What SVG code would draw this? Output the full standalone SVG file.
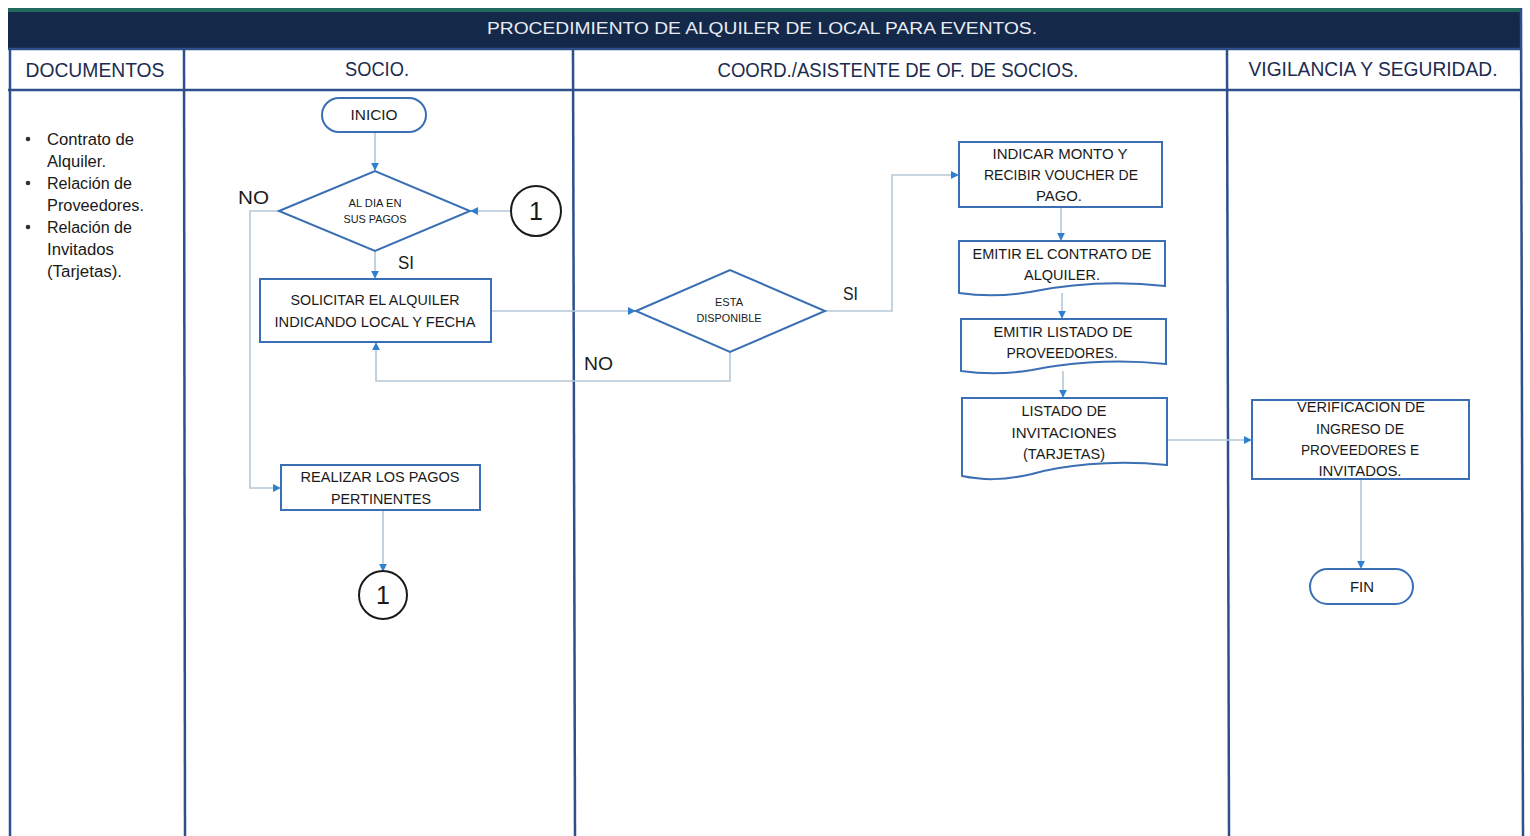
<svg xmlns="http://www.w3.org/2000/svg" width="1530" height="836" viewBox="0 0 1530 836">
<style>
  text { font-family: "Liberation Sans", Arial, sans-serif; fill: #1a1a1a; }
  .hdr { font-size: 20px; fill: #1d2b4f; text-anchor: middle; }
  .title { font-size: 17px; fill: #e8ecf2; text-anchor: middle; }
  .doc { font-size: 16px; }
  .nt { font-size: 14.5px; text-anchor: middle; }
  .sm { font-size: 11px; text-anchor: middle; }
  .lbl { font-size: 19px; }
  .lane { stroke: #2e4f8c; stroke-width: 2.5; fill: none; }
  .node { fill: #ffffff; stroke: #3a6fb5; stroke-width: 2; }
  .circ { fill: #ffffff; stroke: #1a1a1a; stroke-width: 2; }
  .conn { fill: none; stroke: #b5c7d8; stroke-width: 1.6; }
</style>
<defs>
  <marker id="arr" viewBox="0 0 10 10" refX="9" refY="5" markerWidth="5" markerHeight="5" orient="auto">
    <path d="M0,0 L10,5 L0,10 Z" fill="#2f7fd0"/>
  </marker>
</defs>
<rect x="0" y="0" width="1530" height="836" fill="#ffffff"/>

<g id="frame">
  <rect x="8" y="8" width="1513" height="41" fill="#14284a"/>
  <rect x="8" y="8" width="1513" height="4" fill="#1f6a5c"/>
  <text class="title" x="762" y="34" textLength="550" lengthAdjust="spacingAndGlyphs">PROCEDIMIENTO DE ALQUILER DE LOCAL PARA EVENTOS.</text>
  <line class="lane" x1="8" y1="49" x2="1521" y2="49"/>
  <line class="lane" x1="8" y1="90" x2="1521" y2="90"/>
  <line class="lane" x1="10" y1="49" x2="10" y2="836"/>
  <line class="lane" x1="184" y1="49" x2="185" y2="836"/>
  <line class="lane" x1="573" y1="49" x2="575" y2="836"/>
  <line class="lane" x1="1227" y1="49" x2="1229" y2="836"/>
  <line class="lane" x1="1521" y1="8" x2="1523" y2="836"/>
  <text class="hdr" x="95" y="77" textLength="139" lengthAdjust="spacingAndGlyphs">DOCUMENTOS</text>
  <text class="hdr" x="377" y="76" textLength="64" lengthAdjust="spacingAndGlyphs">SOCIO.</text>
  <text class="hdr" x="898" y="77" textLength="361" lengthAdjust="spacingAndGlyphs">COORD./ASISTENTE  DE OF. DE SOCIOS.</text>
  <text class="hdr" x="1373" y="76" textLength="249" lengthAdjust="spacingAndGlyphs">VIGILANCIA Y SEGURIDAD.</text>
</g>

<g id="documentos">
  <circle cx="28" cy="139" r="2.3" fill="#333"/>
  <circle cx="28" cy="183" r="2.3" fill="#333"/>
  <circle cx="28" cy="227" r="2.3" fill="#333"/>
  <text class="doc" x="47" y="145" textLength="87" lengthAdjust="spacingAndGlyphs">Contrato de</text>
  <text class="doc" x="47" y="167" textLength="59" lengthAdjust="spacingAndGlyphs">Alquiler.</text>
  <text class="doc" x="47" y="189" textLength="85" lengthAdjust="spacingAndGlyphs">Relación de</text>
  <text class="doc" x="47" y="211" textLength="97" lengthAdjust="spacingAndGlyphs">Proveedores.</text>
  <text class="doc" x="47" y="233" textLength="85" lengthAdjust="spacingAndGlyphs">Relación de</text>
  <text class="doc" x="47" y="255" textLength="67" lengthAdjust="spacingAndGlyphs">Invitados</text>
  <text class="doc" x="47" y="277" textLength="75" lengthAdjust="spacingAndGlyphs">(Tarjetas).</text>
</g>

<g id="connectors">
  <path class="conn" d="M375,132 V170" marker-end="url(#arr)"/>
  <path class="conn" d="M511,211 H471" marker-end="url(#arr)"/>
  <path class="conn" d="M375,251 V278" marker-end="url(#arr)"/>
  <path class="conn" d="M279,211 H250 V488 H280" marker-end="url(#arr)"/>
  <path class="conn" d="M383,510 V571" marker-end="url(#arr)"/>
  <path class="conn" d="M491,311 H635" marker-end="url(#arr)"/>
  <path class="conn" d="M730,352 V381 H376 V343" marker-end="url(#arr)"/>
  <path class="conn" d="M825,311 H892 V175 H958" marker-end="url(#arr)"/>
  <path class="conn" d="M1061,207 V240" marker-end="url(#arr)"/>
  <path class="conn" d="M1062,293 V318" marker-end="url(#arr)"/>
  <path class="conn" d="M1063,371 V397" marker-end="url(#arr)"/>
  <path class="conn" d="M1167,440 H1251" marker-end="url(#arr)"/>
  <path class="conn" d="M1361,479 V568" marker-end="url(#arr)"/>
  <text class="lbl" x="238" y="204" textLength="31" lengthAdjust="spacingAndGlyphs">NO</text>
  <text class="lbl" x="398" y="269" textLength="16" lengthAdjust="spacingAndGlyphs">SI</text>
  <text class="lbl" x="584" y="370" textLength="29" lengthAdjust="spacingAndGlyphs">NO</text>
  <text class="lbl" x="843" y="300" textLength="15" lengthAdjust="spacingAndGlyphs">SI</text>
</g>

<g id="inicio">
  <rect class="node" x="322" y="98" width="104" height="34" rx="17"/>
  <text class="nt" x="374" y="120" textLength="47" lengthAdjust="spacingAndGlyphs">INICIO</text>
</g>

<g id="al-dia">
  <polygon class="node" points="279,211 375,171 470,211 375,251"/>
  <text class="sm" x="375" y="207" textLength="53" lengthAdjust="spacingAndGlyphs">AL DIA EN</text>
  <text class="sm" x="375" y="223" textLength="63" lengthAdjust="spacingAndGlyphs">SUS PAGOS</text>
</g>

<g id="conector-1a">
  <circle class="circ" cx="536" cy="211" r="25"/>
  <text x="536" y="220" font-size="25" text-anchor="middle">1</text>
</g>

<g id="solicitar">
  <rect class="node" x="260" y="279" width="231" height="63"/>
  <text class="nt" x="375" y="305" textLength="169" lengthAdjust="spacingAndGlyphs">SOLICITAR EL ALQUILER</text>
  <text class="nt" x="375" y="327" textLength="201" lengthAdjust="spacingAndGlyphs">INDICANDO  LOCAL Y FECHA</text>
</g>

<g id="realizar">
  <rect class="node" x="281" y="465" width="199" height="45"/>
  <text class="nt" x="380" y="482" textLength="159" lengthAdjust="spacingAndGlyphs">REALIZAR LOS PAGOS</text>
  <text class="nt" x="381" y="504" textLength="100" lengthAdjust="spacingAndGlyphs">PERTINENTES</text>
</g>

<g id="conector-1b">
  <circle class="circ" cx="383" cy="595" r="24"/>
  <text x="383" y="604" font-size="25" text-anchor="middle">1</text>
</g>

<g id="esta-disponible">
  <polygon class="node" points="636,311 730,270 825,311 730,352"/>
  <text class="sm" x="729" y="306" textLength="28" lengthAdjust="spacingAndGlyphs">ESTA</text>
  <text class="sm" x="729" y="322" textLength="65" lengthAdjust="spacingAndGlyphs">DISPONIBLE</text>
</g>

<g id="indicar-monto">
  <rect class="node" x="959" y="142" width="203" height="65"/>
  <text class="nt" x="1060" y="159" textLength="135" lengthAdjust="spacingAndGlyphs">INDICAR MONTO Y</text>
  <text class="nt" x="1061" y="180" textLength="154" lengthAdjust="spacingAndGlyphs">RECIBIR VOUCHER DE</text>
  <text class="nt" x="1059" y="201" textLength="46" lengthAdjust="spacingAndGlyphs">PAGO.</text>
</g>

<g id="emitir-contrato">
  <path class="node" d="M959,241 H1165 V286 C1110,280 1060,286 1030,292 C1000,297 980,296 959,293 Z"/>
  <text class="nt" x="1062" y="259" textLength="179" lengthAdjust="spacingAndGlyphs">EMITIR EL CONTRATO DE</text>
  <text class="nt" x="1062" y="280" textLength="76" lengthAdjust="spacingAndGlyphs">ALQUILER.</text>
</g>

<g id="emitir-listado">
  <path class="node" d="M961,319 H1166 V364 C1110,358 1060,364 1032,370 C1002,375 982,374 961,371 Z"/>
  <text class="nt" x="1063" y="337" textLength="139" lengthAdjust="spacingAndGlyphs">EMITIR LISTADO DE</text>
  <text class="nt" x="1062" y="358" textLength="111" lengthAdjust="spacingAndGlyphs">PROVEEDORES.</text>
</g>

<g id="listado-invitaciones">
  <path class="node" d="M962,398 H1167 V465 C1110,459 1060,466 1032,474 C1002,481 982,480 962,476 Z"/>
  <text class="nt" x="1064" y="416" textLength="85" lengthAdjust="spacingAndGlyphs">LISTADO DE</text>
  <text class="nt" x="1064" y="438" textLength="105" lengthAdjust="spacingAndGlyphs">INVITACIONES</text>
  <text class="nt" x="1064" y="459" textLength="82" lengthAdjust="spacingAndGlyphs">(TARJETAS)</text>
</g>

<g id="verificacion">
  <rect class="node" x="1252" y="400" width="217" height="79"/>
  <text class="nt" x="1361" y="412" textLength="128" lengthAdjust="spacingAndGlyphs">VERIFICACION DE</text>
  <text class="nt" x="1360" y="434" textLength="88" lengthAdjust="spacingAndGlyphs">INGRESO DE</text>
  <text class="nt" x="1360" y="455" textLength="118" lengthAdjust="spacingAndGlyphs">PROVEEDORES E</text>
  <text class="nt" x="1360" y="476" textLength="83" lengthAdjust="spacingAndGlyphs">INVITADOS.</text>
</g>

<g id="fin">
  <rect class="node" x="1310" y="569" width="103" height="35" rx="17.5"/>
  <text class="nt" x="1362" y="592" textLength="24" lengthAdjust="spacingAndGlyphs">FIN</text>
</g>
</svg>
